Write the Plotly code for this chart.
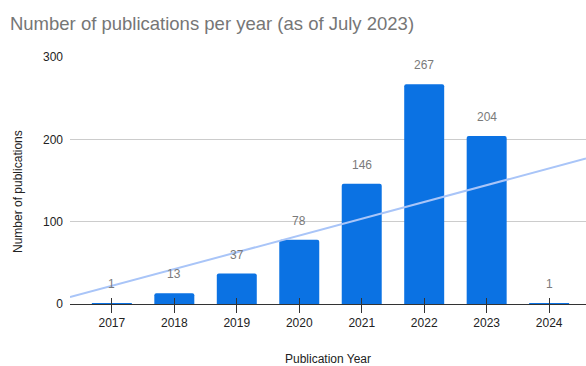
import numpy as np
import plotly.graph_objects as go

years = [2017, 2018, 2019, 2020, 2021, 2022, 2023, 2024]
counts = [1, 13, 37, 78, 146, 267, 204, 1]
title_text = "Number of publications per year (as of July 2023)"
y_title = "Number of publications"
x_title = "Publication Year"
y_ticks = [0, 100, 200, 300]

x_range = [2016.33, 2024.59]
bar_color = "#0b72e3"
trend_color = "#a9c5f8"
FONT = "Liberation Sans, Arial, sans-serif"

# linear trendline (least squares over the data)
slope, intercept = np.polyfit(years, counts, 1)
tx = np.array(x_range)
ty = slope * tx + intercept

fig = go.Figure()
fig.add_trace(go.Bar(
    x=years, y=counts, width=0.64,
    marker=dict(color=bar_color, line=dict(width=0), cornerradius=2),
    hoverinfo="skip", showlegend=False,
))
fig.add_trace(go.Scatter(
    x=tx, y=ty, mode="lines",
    line=dict(color=trend_color, width=2),
    hoverinfo="skip", showlegend=False, xaxis="x", yaxis="y",
))
# inside halves of tick marks
fig.add_trace(go.Scatter(x=years, y=counts, mode="none", xaxis="x2", yaxis="y",
                         showlegend=False, hoverinfo="skip"))

for yr, c in zip(years, counts):
    fig.add_annotation(x=yr, y=c, text=str(c), showarrow=False, yshift=19,
                       font=dict(family=FONT, size=12, color="#7a7a7a"))

fig.add_annotation(text=y_title, xref="paper", yref="paper", x=-0.101, y=0.457,
                   xanchor="center", yanchor="middle", textangle=-90, showarrow=False,
                   font=dict(family=FONT, size=12, color="#222222"))

fig.update_layout(
    width=586, height=366,
    margin=dict(l=70, r=0, t=57, b=62),
    paper_bgcolor="white", plot_bgcolor="white",
    font=dict(family=FONT, size=12, color="#222222"),
    title=dict(text=title_text, x=0.017, xanchor="left", y=0.937, yanchor="middle",
               font=dict(size=18.5, color="#767676")),
    xaxis=dict(range=x_range, tickmode="array", tickvals=years, ticktext=[str(y) for y in years],
               showgrid=False, zeroline=False, showline=True, linecolor="#333333", linewidth=1,
               ticks="outside", ticklen=8, tickcolor="#333333", tickwidth=1, layer="above traces",
               tickfont=dict(size=12, color="#222222"),
               title=dict(text=x_title, standoff=26, font=dict(size=12, color="#222222"))),
    xaxis2=dict(range=x_range, overlaying="x", matches="x", tickmode="array", tickvals=years,
                showticklabels=False, showgrid=False, zeroline=False, showline=False,
                ticks="inside", ticklen=6, tickcolor="#333333", tickwidth=1, side="bottom",
                anchor="y", layer="above traces"),
    yaxis=dict(range=[0, 300], tickmode="array", tickvals=y_ticks,
               showgrid=True, gridcolor="#cccccc", gridwidth=1, zeroline=False,
               showline=False, ticks="", ticklabelstandoff=6,
               tickfont=dict(size=12, color="#222222")),
)

fig.write_html("out.html")
